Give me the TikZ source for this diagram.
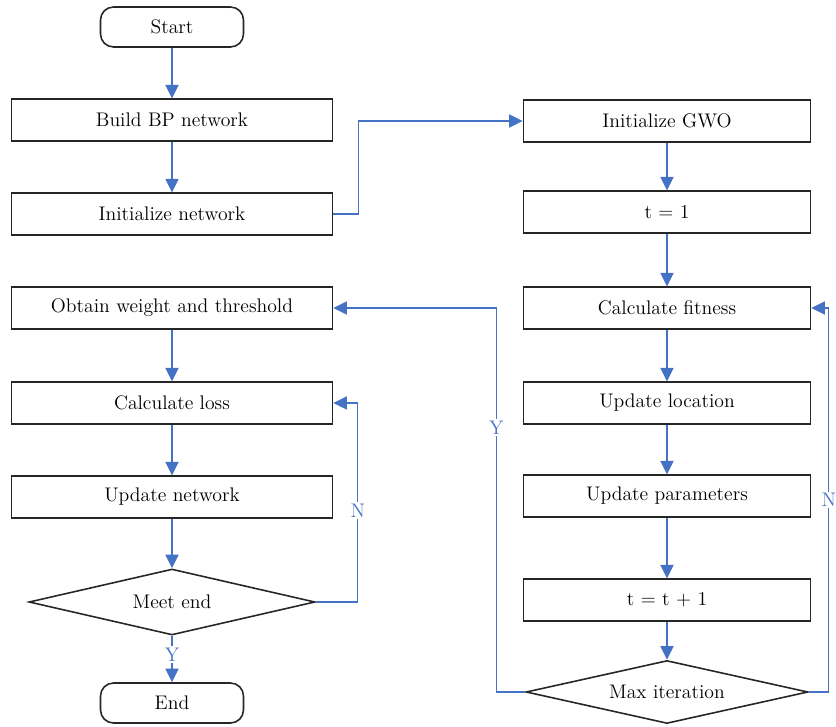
\documentclass[tikz,border=0pt]{standalone}
\usepackage{tikz}
\usetikzlibrary{arrows.meta}
\usetikzlibrary{shapes}
\usetikzlibrary{shapes.geometric}
\definecolor{flowblue}{RGB}{68,114,196}
\tikzstyle{terminal}=[rectangle,rounded corners=0.26cm,draw=black!85,line width=0.9pt,minimum width=2.86cm,minimum height=0.8cm,inner sep=0mm]
\tikzstyle{lbox}=[rectangle,draw=black!85,line width=0.9pt,minimum width=6.42cm,minimum height=0.83cm,inner sep=0mm]
\tikzstyle{rbox}=[rectangle,draw=black!85,line width=0.9pt,minimum width=5.74cm,minimum height=0.83cm,inner sep=0mm]
\tikzstyle{decide}=[diamond,aspect=4.3,draw=black!85,line width=0.9pt,inner sep=0mm]
\tikzstyle{flow}=[flowblue,line width=0.8pt,->]
\tikzstyle{lbl}=[fill=white,text=flowblue,inner sep=1pt]
\tikzset{every node/.style={font=\fontsize{11.2}{13}\selectfont}}

\begin{document}
\begin{tikzpicture}[x=0.02cm, y=-0.02cm, >={Triangle[length=2.7mm,width=2.6mm]}]
    \useasboundingbox (0,0) rectangle (836,727);
    % left column
    \node[terminal] at (172,27) (start) {Start};
    \node[lbox] at (172,120) (bp) {Build BP network};
    \node[lbox] at (172,214) (initnet) {Initialize network};
    \node[lbox] at (172,308) (weight) {Obtain weight and threshold};
    \node[lbox] at (172,403) (loss) {Calculate loss};
    \node[lbox] at (172,497) (upnet) {Update network};
    \node[decide,minimum width=5.72cm,minimum height=1.32cm] at (172,602) (meet) {Meet end};
    \node[terminal] at (172,703) (end) {End};
    % right column
    \node[rbox] at (667,121) (gwo) {Initialize GWO};
    \node[rbox] at (667,212) (tone) {t = 1};
    \node[rbox] at (667,308) (fit) {Calculate fitness};
    \node[rbox] at (667,403) (loc) {Update location};
    \node[rbox] at (667,496) (param) {Update parameters};
    \node[rbox] at (667,600) (tinc) {t = t + 1};
    \node[decide,minimum width=5.64cm,minimum height=1.26cm] at (667,692) (maxit) {Max iteration};

    \draw[flow] (start) -- (bp);
    \draw[flow] (bp) -- (initnet);
    \draw[flow] (initnet.east) -- ++(25,0) |- (gwo.west);
    \draw[flow] (weight) -- (loss);
    \draw[flow] (loss) -- (upnet);
    \draw[flow] (upnet) -- (meet);
    \draw[flow] (meet.east) -- ++(42,0) |- node[lbl,pos=0.23] {N} (loss.east);
    \draw[flow] (meet) -- node[lbl,pos=0.4] {Y} (end);

    \draw[flow] (gwo) -- (tone);
    \draw[flow] (tone) -- (fit);
    \draw[flow] (fit) -- (loc);
    \draw[flow] (loc) -- (param);
    \draw[flow] (param) -- (tinc);
    \draw[flow] (tinc) -- (maxit);
    \draw[flow] (maxit.west) -- ++(-29,0) |- node[lbl,pos=0.344] {Y} (weight.east);
    \draw[flow] (maxit.east) -- ++(20,0) |- node[lbl,pos=0.25] {N} (fit.east);
  \end{tikzpicture}
\end{document}
